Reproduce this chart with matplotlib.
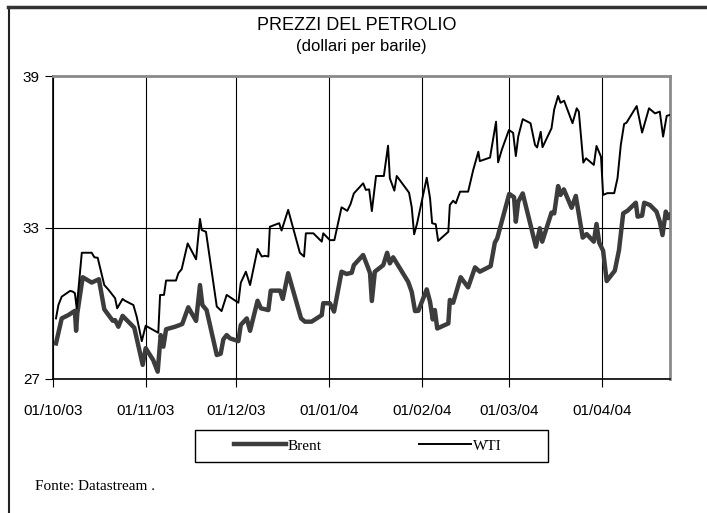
import matplotlib
matplotlib.use("Agg")
import matplotlib.pyplot as plt
import matplotlib.dates as mdates
from matplotlib.patches import Rectangle
import numpy as np
import pandas as pd

# days elapsed since 01/10/2003 and price (USD per barrel)
wti_days = [1.0, 1.8, 2.9, 5.7, 6.6, 7.3, 7.9, 9.6, 12.9, 13.8, 14.9, 17.1, 18.4, 20.7, 21.4,
            23.2, 24.0, 26.8, 27.9, 29.6, 30.9, 35.1, 35.7, 37.0, 37.7, 41.0, 41.8, 42.9, 44.9,
            47.7, 49.0, 49.6, 51.0, 54.6, 56.2, 57.9, 61.8, 62.6, 64.3, 65.7, 68.2, 69.6, 70.7,
            71.8, 72.3, 75.4, 76.2, 78.4, 82.3, 83.7, 84.3, 86.8, 89.6, 90.1, 92.3, 93.8, 96.2,
            98.1, 99.2, 100.3, 103.4, 104.3, 105.4, 106.3, 107.7, 110.3, 111.7, 112.3, 113.8,
            114.6, 117.9, 118.7, 119.6, 120.4, 121.4, 124.6, 125.7, 126.4, 127.6, 128.4, 131.8,
            132.3, 133.4, 134.3, 135.7, 138.4, 140.1, 141.8, 142.3, 145.7, 147.7, 148.4, 149.6,
            152.0, 153.4, 154.3, 155.1, 156.6, 159.2, 160.7, 161.4, 162.6, 163.2, 166.2, 167.1,
            168.4, 169.2, 170.4, 173.2, 174.6, 175.3, 176.8, 177.7, 180.3, 181.2, 182.7, 183.4,
            184.8, 187.1, 188.2, 189.3, 190.4, 191.2, 194.6, 196.4, 198.7, 200.7, 202.3, 203.4,
            204.6, 205.7]
wti = [29.40, 29.93, 30.26, 30.49, 30.46, 30.40, 29.80, 32.00, 32.00, 31.82, 31.80, 30.72, 30.55,
       30.20, 29.80, 30.17, 30.10, 29.93, 29.47, 28.50, 29.11, 28.83, 30.33, 30.33, 30.90, 30.90,
       31.19, 31.35, 32.37, 31.74, 33.34, 32.90, 32.83, 29.87, 29.69, 30.33, 30.02, 30.81, 31.25,
       30.72, 32.15, 31.85, 31.88, 31.85, 33.03, 33.17, 32.88, 33.70, 32.00, 31.85, 32.77, 32.77,
       32.44, 32.77, 32.50, 32.50, 33.80, 33.66, 33.93, 34.35, 34.75, 34.49, 34.51, 33.65, 35.04,
       35.04, 36.24, 34.95, 34.46, 35.04, 34.51, 34.38, 33.80, 32.73, 33.17, 34.97, 34.16, 33.17,
       33.13, 32.47, 32.83, 33.89, 34.06, 33.96, 34.42, 34.42, 35.28, 36.00, 35.63, 35.77, 37.19,
       35.58, 36.07, 36.86, 36.75, 35.83, 36.60, 37.29, 37.13, 36.27, 36.17, 36.79, 36.18, 36.93,
       37.68, 38.21, 37.94, 38.02, 37.13, 37.72, 37.59, 35.57, 35.74, 35.48, 36.23, 35.80, 34.29,
       34.36, 34.36, 34.95, 36.27, 37.10, 37.15, 37.81, 36.76, 37.72, 37.52, 37.59, 36.60, 37.42,
       37.46]

brent_days = [1.0, 2.9, 5.1, 7.3, 7.7, 8.1, 9.9, 12.9, 15.3, 17.1, 19.9, 20.7, 21.8, 23.2, 26.2,
              27.1, 29.9, 30.9, 33.4, 34.9, 35.9, 36.8, 37.7, 40.7, 42.3, 43.1, 45.1, 47.7, 49.0,
              49.8, 51.2, 54.6, 55.9, 56.8, 57.9, 59.0, 61.8, 62.6, 64.6, 65.7, 68.2, 69.3, 71.8,
              72.6, 75.7, 76.6, 78.4, 82.7, 84.0, 86.2, 89.6, 90.1, 92.3, 93.7, 96.2, 97.9, 99.6,
              100.3, 103.4, 104.9, 105.7, 106.3, 107.3, 110.1, 111.4, 112.3, 113.4, 118.4, 119.6,
              120.7, 121.8, 124.6, 125.7, 126.6, 127.3, 128.1, 131.8, 132.3, 133.4, 135.9, 138.4,
              140.7, 142.3, 145.9, 147.3, 148.1, 152.1, 153.7, 154.3, 155.1, 156.6, 161.0, 162.3,
              163.1, 166.2, 167.1, 168.4, 169.2, 170.3, 172.9, 174.3, 176.6, 177.9, 180.3, 181.2,
              182.1, 183.4, 184.6, 187.3, 188.7, 190.1, 191.6, 194.3, 194.9, 196.4, 197.1, 199.0,
              201.2, 202.3, 203.2, 204.3, 205.1, 205.7]
brent = [28.41, 29.40, 29.53, 29.70, 28.91, 29.60, 31.03, 30.82, 30.95, 29.76, 29.31, 29.33, 29.07,
         29.50, 29.14, 29.03, 27.56, 28.22, 27.75, 27.29, 28.74, 28.28, 28.97, 29.07, 29.14, 29.18,
         29.84, 29.30, 30.72, 29.93, 29.73, 27.95, 28.00, 28.57, 28.74, 28.61, 28.50, 29.14, 29.40,
         28.91, 30.10, 29.80, 29.73, 30.50, 30.50, 30.17, 31.19, 29.40, 29.27, 29.27, 29.53, 30.00,
         30.00, 29.67, 31.25, 31.16, 31.21, 31.51, 31.91, 31.45, 31.19, 30.09, 31.25, 31.51, 32.00,
         31.58, 31.82, 30.85, 30.45, 29.69, 29.70, 30.55, 30.06, 29.36, 29.73, 29.00, 29.20, 30.13,
         30.02, 31.03, 30.63, 31.42, 31.25, 31.47, 32.40, 32.57, 34.33, 34.20, 33.23, 34.02, 34.35,
         32.24, 32.97, 32.44, 33.59, 33.56, 34.64, 34.29, 34.51, 33.78, 34.25, 32.60, 32.74, 32.44,
         33.14, 32.40, 32.08, 30.88, 31.29, 32.11, 33.56, 33.67, 33.98, 33.43, 33.47, 33.98, 33.89,
         33.63, 33.23, 32.70, 33.63, 33.37, 33.50]

month_ticks = ["2003-10-01", "2003-11-01", "2003-12-01", "2004-01-01",
               "2004-02-01", "2004-03-01", "2004-04-01"]
y_ticks = [27, 33, 39]

start = pd.Timestamp("2003-10-01")
wti_x = start + pd.to_timedelta(wti_days, unit="D")
brent_x = start + pd.to_timedelta(brent_days, unit="D")

narrow = ["Liberation Sans Narrow", "Liberation Sans", "DejaVu Sans"]
serif = ["Liberation Serif", "DejaVu Serif"]

fig = plt.figure(figsize=(7.07, 5.13), dpi=100)
ax = fig.add_axes([53/707, 1-379/513, (670-53)/707, (379-76)/513])

ln_b, = ax.plot(brent_x, brent, color="#3c3c3c", lw=3.2, solid_joinstyle="round", zorder=3)
ln_w, = ax.plot(wti_x, wti, color="black", lw=1.4, zorder=4)

ax.set_ylim(27, 39)
ax.set_xlim(start, start + pd.Timedelta(days=205.7))
ticks = pd.to_datetime(month_ticks)
ax.set_xticks(ticks)
ax.xaxis.set_major_formatter(mdates.DateFormatter("%d/%m/%y"))
ax.set_yticks(y_ticks)
ax.grid(True, color="black", lw=0.8)
ax.set_axisbelow(True)
ax.tick_params(axis="both", direction="out", length=6, width=0.8, color="black",
               labelsize=11)
ax.tick_params(axis="x", pad=12)
for lab in ax.get_xticklabels() + ax.get_yticklabels():
    lab.set_family(narrow)

ax.spines["left"].set_color("black")
ax.spines["bottom"].set_color("black")
ax.spines["left"].set_linewidth(1.2)
ax.spines["bottom"].set_linewidth(1.2)
ax.spines["top"].set_color("#8a8a8a")
ax.spines["right"].set_color("#8a8a8a")
ax.spines["top"].set_linewidth(2)
ax.spines["right"].set_linewidth(2)

fig.text(357/707, 1-26/513, "PREZZI DEL PETROLIO", ha="center", va="center",
         family=narrow, fontsize=13)
fig.text(361/707, 1-47/513, "(dollari per barile)", ha="center", va="center",
         family=narrow, fontsize=12)

# legend: box drawn separately, entries placed inside it
fig.add_artist(Rectangle((195/707, 1-462/513), 353/707, 32/513, transform=fig.transFigure,
                         fill=False, edgecolor="black", lw=1.0))
leg = fig.legend([ln_b, ln_w], ["Brent", "WTI"], ncol=2, loc="center left",
                 bbox_to_anchor=(234/707, 1-446/513), frameon=False,
                 handlelength=3.4, handletextpad=0.1, columnspacing=6.4,
                 borderaxespad=0, borderpad=0,
                 prop={"family": serif, "size": 11})

fig.text(35/707, 1-486/513, "Fonte: Datastream .", ha="left", va="center",
         family=serif, fontsize=11)

# outer frame (left and top edges)
fig.add_artist(plt.Line2D([9/707, 9/707], [0, 1-7/513], transform=fig.transFigure,
                          color="#222222", lw=1.5))
fig.add_artist(plt.Line2D([8/707, 1], [1-7/513, 1-7/513], transform=fig.transFigure,
                          color="#333333", lw=2.5))

fig.savefig("out.png", dpi=100)
